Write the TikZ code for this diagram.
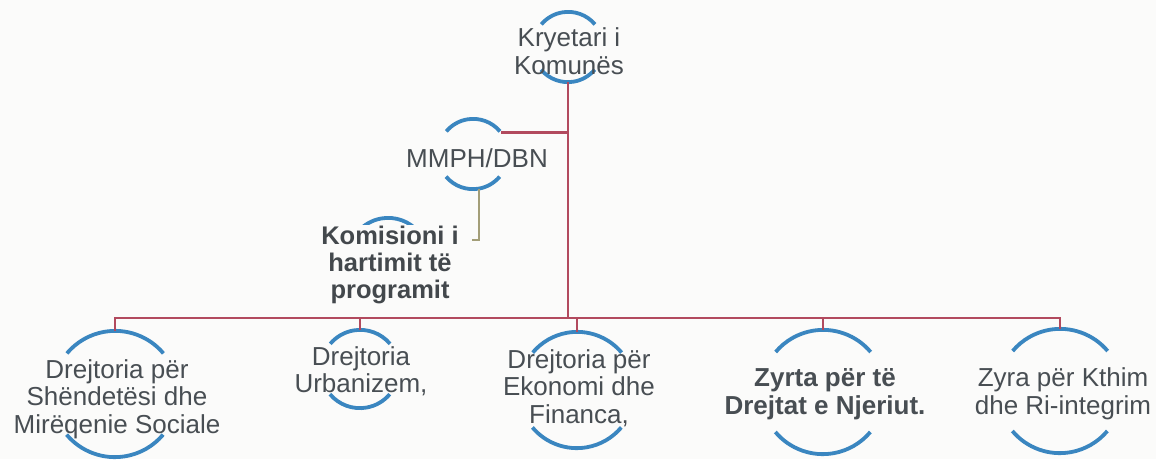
\documentclass[tikz,border=0pt]{standalone}
\usepackage{fontspec}
\setmainfont{Liberation Sans}
\definecolor{bg}{HTML}{FBFBFA}
\definecolor{arcblue}{HTML}{3A86C0}
\definecolor{busred}{HTML}{B24A5E}
\definecolor{olivel}{HTML}{A39E78}
\definecolor{txt}{HTML}{484E53}
\definecolor{txtb}{HTML}{43484C}
\newcommand{\hcirc}[3]{%
  \node[circle, minimum size=2*#3, inner sep=0pt, draw=none] (#1) at #2 {};
  \draw[arcline] (#1.40) arc[start angle=40, end angle=140, radius=#3];
  \draw[arcline] (#1.220) arc[start angle=220, end angle=320, radius=#3];
}
\begin{document}
\begin{tikzpicture}[x=1pt, y=1pt,
  arcline/.style={draw=arcblue, line width=3.8pt},
  redline/.style={draw=busred, line width=2.8pt},
  oliveline/.style={draw=olivel, line width=2pt},
  lbl/.style={text=txt, align=center, inner sep=0pt, font=\fontsize{26}{27.5}\selectfont},
  lblb/.style={text=txtb, align=center, inner sep=1pt, fill=bg, font=\fontsize{25.5}{27}\selectfont\bfseries}
]
\fill[bg] (0,0) rectangle (1156,-459);
\useasboundingbox (0,0) rectangle (1156,-459);

% shapes
\hcirc{kry}{(568,-47)}{35}
\hcirc{mmph}{(473,-154)}{35}
\hcirc{kom}{(388,-258)}{40}
\hcirc{n1}{(115,-394)}{63}
\hcirc{n2}{(360,-369)}{39}
\hcirc{n3}{(577,-390)}{58}
\hcirc{n4}{(823,-392)}{62}
\hcirc{n5}{(1060,-391)}{62}

% connectors
\coordinate (bus) at (568,-318);
\coordinate (kend) at (472,-240);
\draw[redline] (kry.south) -- (bus);
\draw[redline] (mmph.37) -- (mmph.37 -| kry.south);
\draw[redline] (n1.north) -- (bus -| n1.north) -- (bus -| n5.north) -- (n5.north);
\draw[redline] (bus -| n2.north) -- (n2.north);
\draw[redline] (bus -| n3.north) -- (n3.north);
\draw[redline] (bus -| n4.north) -- (n4.north);
\draw[oliveline] (mmph.280) |- (kend);

% texts
\node[lbl] (tkry) at (569,-51) {Kryetari i\\Komunës};
\node[lbl] (tmmph) at (477,-158) {MMPH/DBN};
\node[lblb] (tkom) at (390,-265) {Komisioni i\\hartimit të\\programit};
\node[lbl] (tn1) at (117,-399) {Drejtoria për\\Shëndetësi dhe\\Mirëqenie Sociale};
\node[lbl] (tn2) at (361,-371) {Drejtoria\\Urbanizem,};
\node[lbl] (tn3) at (579,-388) {Drejtoria për\\Ekonomi dhe\\Financa,};
\node[lbl, font=\fontsize{26}{27.5}\selectfont\bfseries] (tn4) at (825,-394) {Zyrta për të\\Drejtat e Njeriut.};
\node[lbl] (tn5) at (1063,-394) {Zyra për Kthim\\dhe Ri-integrim};
\end{tikzpicture}
\end{document}
